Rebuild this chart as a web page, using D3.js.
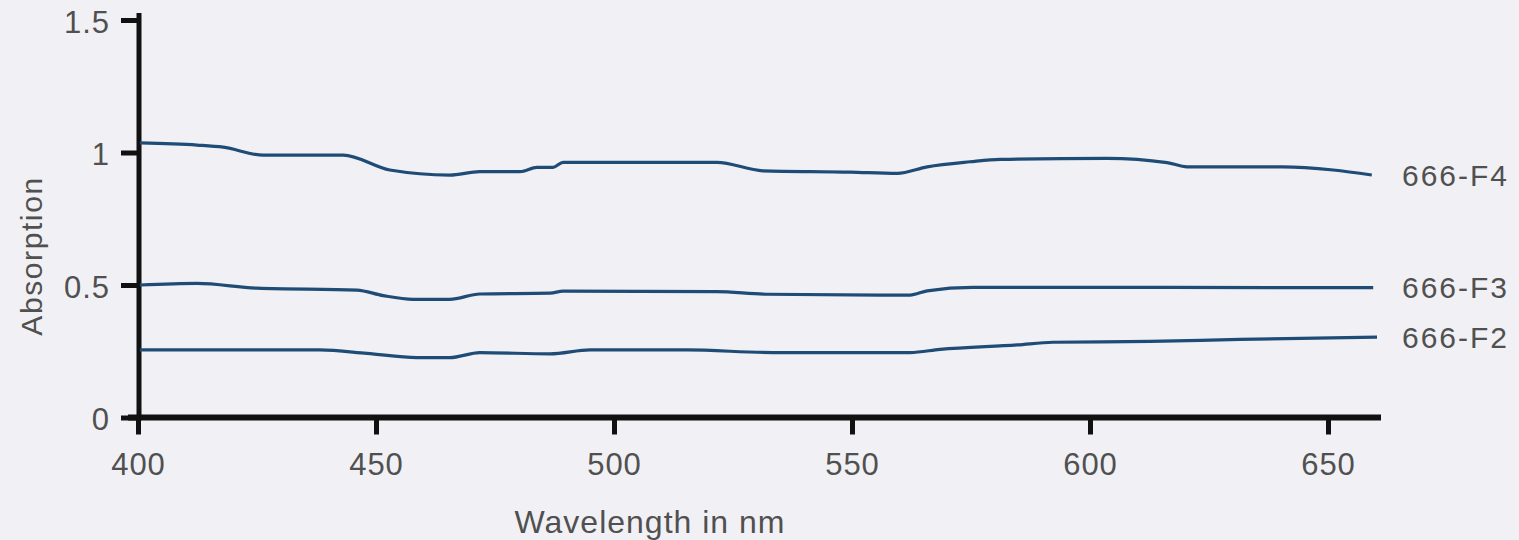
<!DOCTYPE html>
<html>
<head>
<meta charset="utf-8">
<script src="https://cdn.jsdelivr.net/npm/d3@7"></script>
<style>
  html, body { margin: 0; padding: 0; background: #f1f1f5; }
  svg { display: block; }
  text { font-family: "Liberation Sans", sans-serif; fill: #505050; }
</style>
</head>
<body>
<div id="chart"></div>
<script>
// wavelength (nm) / absorption readings for each sample
const f4Wave = [400.4, 412.4, 417.9, 426.3, 443.1, 452.9, 465.5, 471.8, 480.3, 483.8, 487.2, 489.3, 521.6, 531.3, 549.6, 559.5, 565.8, 574.8, 581.1, 603.6, 616.2, 620.4, 640.5, 651.1, 659.2]
const f4Abs  = [1.036, 1.028, 1.02, 0.99, 0.99, 0.934, 0.915, 0.928, 0.928, 0.944, 0.944, 0.963, 0.963, 0.931, 0.926, 0.921, 0.946, 0.965, 0.974, 0.978, 0.962, 0.946, 0.946, 0.934, 0.915]

const f3Wave = [400.4, 412.4, 425.0, 446.0, 451.5, 457.8, 465.5, 471.8, 486.6, 489.3, 521.6, 532.1, 562.2, 565.8, 575.4, 659.5]
const f3Abs  = [0.5, 0.506, 0.488, 0.481, 0.46, 0.446, 0.446, 0.466, 0.469, 0.477, 0.475, 0.465, 0.462, 0.478, 0.491, 0.49]

const f2Wave = [400.4, 438.2, 448.1, 458.6, 465.5, 471.8, 486.6, 495.0, 515.3, 533.4, 562.2, 568.5, 584.7, 592.2, 612.6, 631.5, 660.3]
const f2Abs  = [0.255, 0.255, 0.242, 0.226, 0.226, 0.245, 0.24, 0.255, 0.255, 0.245, 0.245, 0.257, 0.274, 0.284, 0.287, 0.295, 0.303]

const seriesNames = ['666-F4', '666-F3', '666-F2']
const xTicks = [400, 450, 500, 550, 600, 650]
const yTicks = [0, 0.5, 1, 1.5]

const width = 1519, height = 540
const lineColor = '#1f4c76'

const series = [
	{ name: seriesNames[0], wave: f4Wave, abs: f4Abs },
	{ name: seriesNames[1], wave: f3Wave, abs: f3Abs },
	{ name: seriesNames[2], wave: f2Wave, abs: f2Abs }
].map(s => ({ name: s.name, points: s.wave.map((w, i) => ({ x: w, y: s.abs[i] })) }))

const x = d3.scaleLinear().domain([400, 650]).range([138, 1328])
const y = d3.scaleLinear().domain([0, 1.5]).range([417.5, 20])

const svg = d3.select('#chart').append('svg')
		.attr('width', width)
		.attr('height', height)

// axis lines (drawn a bit past the plot like the original)
svg.append('line')
	.attr('x1', 139).attr('x2', 139)
	.attr('y1', 13).attr('y2', y(0) + 3)
	.attr('stroke', '#111').attr('stroke-width', 5)

svg.append('line')
	.attr('x1', 128).attr('x2', 1381)
	.attr('y1', y(0)).attr('y2', y(0))
	.attr('stroke', '#111').attr('stroke-width', 6)

// X axis ticks + labels
const xAxis = svg.append('g')
	.attr('transform', `translate(0,${y(0)})`)
	.call(d3.axisBottom(x).tickValues(xTicks).tickSize(17).tickPadding(18).tickFormat(d3.format('d')))
xAxis.select('.domain').remove()
xAxis.selectAll('.tick line').attr('stroke', '#111').attr('stroke-width', 5)
xAxis.selectAll('.tick text')
	.attr('font-size', 31).attr('fill', null)
	.attr('font-family', null).style('letter-spacing', '1px')

// Y axis ticks + labels
const yAxis = svg.append('g')
	.attr('transform', 'translate(139,0)')
	.call(d3.axisLeft(y).tickValues(yTicks).tickSize(18).tickPadding(11).tickFormat(d => d))
yAxis.select('.domain').remove()
yAxis.selectAll('.tick line').attr('stroke', '#111').attr('stroke-width', 5)
yAxis.selectAll('.tick text')
	.attr('font-size', 31).attr('fill', null).attr('dy', '0.4em')
	.attr('font-family', null).style('letter-spacing', '1px')

// axis titles
svg.append('text')
	.attr('x', 650).attr('y', 533)
	.attr('text-anchor', 'middle')
	.attr('font-size', 32)
	.style('letter-spacing', '1px')
	.text('Wavelength in nm')

svg.append('text')
	.attr('transform', 'translate(42,256) rotate(-90)')
	.attr('text-anchor', 'middle')
	.attr('font-size', 30)
	.style('letter-spacing', '1.6px')
	.text('Absorption')

// the curves
const line = d3.line()
	.x(d => x(d.x))
	.y(d => y(d.y))
	.curve(d3.curveMonotoneX)

svg.selectAll('path.curve')
	.data(series)
	.enter().append('path')
		.attr('class', 'curve')
		.attr('d', d => line(d.points))
		.attr('fill', 'none')
		.attr('stroke', lineColor)
		.attr('stroke-width', 3.2)

// end labels
svg.selectAll('text.label')
	.data(series)
	.enter().append('text')
		.attr('class', 'label')
		.attr('x', 1402)
		.attr('y', d => y(d.points[d.points.length - 1].y))
		.attr('dy', '0.35em')
		.attr('font-size', 30)
		.style('letter-spacing', '2px')
		.text(d => d.name)
</script>
</body>
</html>
